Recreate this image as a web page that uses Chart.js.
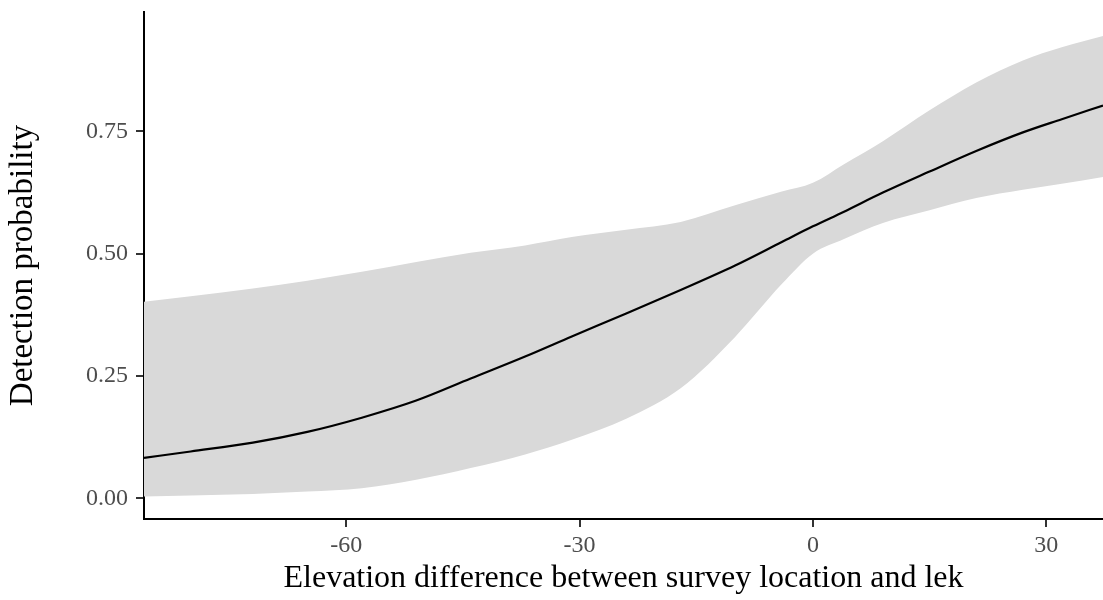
<!DOCTYPE html>
<html>
<head>
<meta charset="utf-8">
<script src="https://cdn.jsdelivr.net/npm/chart.js@4.4.1/dist/chart.umd.min.js"></script>
<style>
  html, body { margin: 0; padding: 0; background: #ffffff; }
  #wrap { width: 1103px; height: 600px; }
</style>
</head>
<body>
<div id="wrap"><canvas id="chart" width="1103" height="600"></canvas></div>
<script>
// Elevation difference (m) between survey location and lek
const elevation = [-86, -80, -72, -65, -58, -51, -44, -37, -31, -24, -17, -10, -4, 0, 4, 9, 15, 21, 27, 32, 37.3];
// Predicted detection probability
const meanProb  = [0.083, 0.096, 0.114, 0.136, 0.165, 0.200, 0.245, 0.290, 0.331, 0.378, 0.426, 0.476, 0.524, 0.556, 0.586, 0.625, 0.668, 0.710, 0.748, 0.775, 0.803];
// 95% interval bounds
const upperProb = [0.402, 0.413, 0.429, 0.445, 0.463, 0.483, 0.502, 0.517, 0.534, 0.549, 0.565, 0.599, 0.627, 0.645, 0.683, 0.730, 0.793, 0.850, 0.895, 0.922, 0.945];
const lowerProb = [0.004, 0.006, 0.009, 0.014, 0.021, 0.038, 0.062, 0.090, 0.120, 0.163, 0.225, 0.330, 0.438, 0.500, 0.530, 0.563, 0.589, 0.614, 0.631, 0.643, 0.657];

const xTicks = [-60, -30, 0, 30];
const yTicks = [0, 0.25, 0.5, 0.75];
const yTickLabels = ['0.00', '0.25', '0.50', '0.75'];

const pts = (ys) => elevation.map((x, i) => ({ x: x, y: ys[i] }));
const FONT = "'Liberation Serif', 'Times New Roman', serif";

new Chart(document.getElementById('chart'), {
  type: 'line',
  data: {
    datasets: [
      {
        label: 'upper',
        data: pts(upperProb),
        borderWidth: 0,
        borderColor: 'rgba(0,0,0,0)',
        backgroundColor: '#d9d9d9',
        fill: '+1',
        pointRadius: 0,
        cubicInterpolationMode: 'monotone',
        order: 3
      },
      {
        label: 'lower',
        data: pts(lowerProb),
        borderWidth: 0,
        borderColor: 'rgba(0,0,0,0)',
        fill: false,
        pointRadius: 0,
        cubicInterpolationMode: 'monotone',
        order: 2
      },
      {
        label: 'mean',
        data: pts(meanProb),
        borderWidth: 2.2,
        borderColor: '#000000',
        fill: false,
        pointRadius: 0,
        cubicInterpolationMode: 'monotone',
        order: 1
      }
    ]
  },
  options: {
    responsive: false,
    animation: false,
    layout: { padding: { top: 12, right: 0, bottom: 0, left: 0 } },
    plugins: { legend: { display: false }, tooltip: { enabled: false } },
    scales: {
      x: {
        type: 'linear',
        min: -86,
        max: 37.3,
        afterBuildTicks: (s) => { s.ticks = xTicks.map(v => ({ value: v })); },
        afterFit: (s) => { s.height = 81; s.paddingLeft = 0; s.paddingRight = 0; },
        grid: { display: true, drawOnChartArea: false, drawTicks: true, tickLength: 8, color: '#333333', lineWidth: 2 },
        border: { display: true, color: '#000000', width: 2 },
        ticks: {
          padding: 4,
          color: '#4d4d4d',
          font: { family: FONT, size: 24 },
          maxRotation: 0,
          callback: (v) => String(v)
        },
        title: {
          display: true,
          text: 'Elevation difference between survey location and lek',
          color: '#000000',
          font: { family: FONT, size: 32 },
          padding: { top: 0, bottom: 2 }
        }
      },
      y: {
        type: 'linear',
        min: -0.042,
        max: 0.994,
        afterBuildTicks: (s) => { s.ticks = yTicks.map(v => ({ value: v })); },
        afterFit: (s) => { s.width = 144; s.paddingTop = 0; s.paddingBottom = 0; },
        grid: { display: true, drawOnChartArea: false, drawTicks: true, tickLength: 8, color: '#333333', lineWidth: 2 },
        border: { display: true, color: '#000000', width: 2 },
        ticks: {
          padding: 8,
          color: '#4d4d4d',
          font: { family: FONT, size: 24 },
          callback: (v) => yTickLabels[yTicks.indexOf(v)]
        },
        title: {
          display: true,
          text: 'Detection probability',
          color: '#000000',
          font: { family: FONT, size: 33 },
          padding: { top: 4, bottom: 0 }
        }
      }
    }
  }
});
</script>
</body>
</html>
